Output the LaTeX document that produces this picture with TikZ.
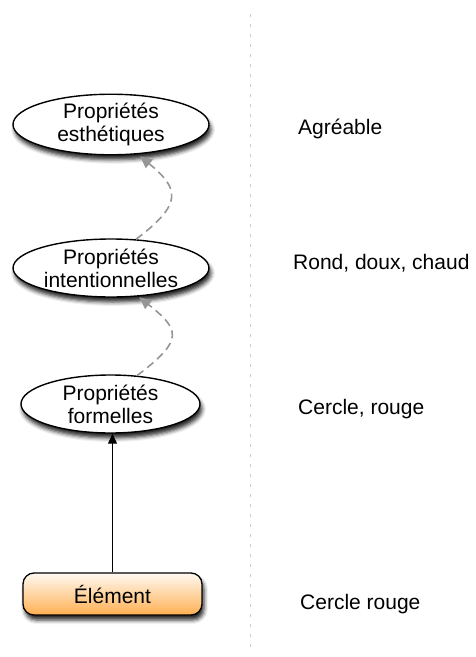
\documentclass[tikz,border=0pt]{standalone}
\usepackage{fontspec}
\setmainfont{Liberation Sans}
\usetikzlibrary{shapes.geometric,arrows.meta,shadows.blur}
\definecolor{boxtop}{RGB}{255,249,242}
\definecolor{boxbot}{RGB}{255,176,82}
\definecolor{dashgray}{RGB}{150,150,150}
\definecolor{dotgray}{RGB}{205,205,205}
\tikzset{
  prop/.style={ellipse, draw=black, line width=1.4pt, fill=white, inner sep=0pt,
    align=center, font=\fontsize{21}{23}\selectfont,
    blur shadow={shadow xshift=2pt, shadow yshift=-5pt, shadow blur radius=4pt, shadow opacity=85}},
  elembox/.style={draw=black, line width=1.3pt, rounded corners=11pt, inner sep=0pt,
    top color=boxtop, bottom color=boxbot, font=\fontsize{21}{23}\selectfont,
    minimum width=179pt, minimum height=42pt,
    blur shadow={shadow xshift=2pt, shadow yshift=-5pt, shadow blur radius=4pt, shadow opacity=85}},
  side/.style={anchor=base west, inner sep=0pt, font=\fontsize{21}{23}\selectfont},
  dasharrow/.style={draw=dashgray, line width=1.6pt, dash pattern=on 8pt off 5pt,
    -{Triangle[length=12pt,width=11pt]}},
  solidarrow/.style={draw=black, line width=1.1pt, -{Triangle[length=10pt,width=9pt]}},
  sep/.style={draw=dotgray, line width=1.3pt, dash pattern=on 3pt off 7pt}
}
\begin{document}
\begin{tikzpicture}[x=1pt,y=-1pt]
\useasboundingbox (0,0) rectangle (476,657);
% separator
\coordinate (sTop) at (250.5,14);
\coordinate (sBot) at (250.5,652);
\draw[sep] (sTop) -- (sBot);
% nodes
\node[prop, minimum width=196pt, minimum height=59pt] (e1) at (111,124.5) {Propriétés\\esthétiques};
\node[prop, minimum width=196pt, minimum height=58pt] (e2) at (111,268) {Propriétés\\intentionnelles};
\node[prop, minimum width=179pt, minimum height=58pt] (e3) at (110.5,404) {Propriétés\\formelles};
\node[elembox] (el) at (112.5,594) {Élément};
% side labels
\node[side] (t1) at (298,134) {Agréable};
\node[side] (t2) at (293,269) {Rond, doux, chaud};
\node[side] (t3) at (298,414) {Cercle, rouge};
\node[side] (t4) at (300,609) {Cercle rouge};
% connectors
\draw[solidarrow] (el.north) -- (el.north |- e3.south);
\draw[dasharrow, shorten >=1pt] (e3.47) .. controls +(48,-36) and +(41,33) .. (e2.-46);
\draw[dasharrow, shorten >=3pt] (e2.49) .. controls +(48,-36) and +(41,34) .. (e1.-48);
\end{tikzpicture}
\end{document}
